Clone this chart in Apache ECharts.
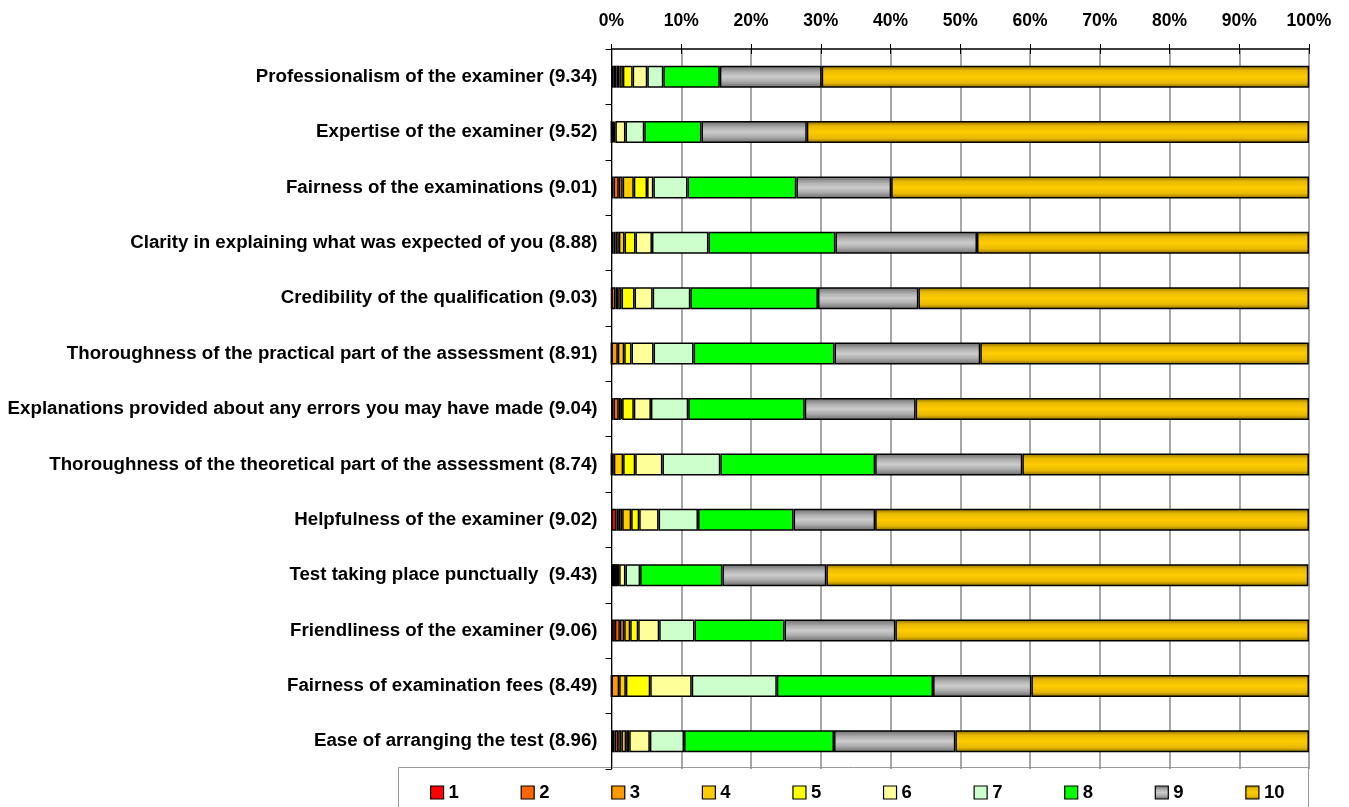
<!DOCTYPE html>
<html><head><meta charset="utf-8">
<script src="https://cdn.jsdelivr.net/npm/echarts@6/dist/echarts.min.js"></script>
<style>html,body{margin:0;padding:0;background:#fff}#c{width:1349px;height:807px}</style>
</head><body><div id="c"></div>
<script>
const categories = [
  'Professionalism of the examiner (9.34)',
  'Expertise of the examiner (9.52)',
  'Fairness of the examinations (9.01)',
  'Clarity in explaining what was expected of you (8.88)',
  'Credibility of the qualification (9.03)',
  'Thoroughness of the practical part of the assessment (8.91)',
  'Explanations provided about any errors you may have made (9.04)',
  'Thoroughness of the theoretical part of the assessment (8.74)',
  'Helpfulness of the examiner (9.02)',
  'Test taking place punctually  (9.43)',
  'Friendliness of the examiner (9.06)',
  'Fairness of examination fees (8.49)',
  'Ease of arranging the test (8.96)'
];
const legendNames = ['1','2','3','4','5','6','7','8','9','10'];
const tickLabels = ['0%','10%','20%','30%','40%','50%','60%','70%','80%','90%','100%'];
const score1  = [0.33, 0,    0.29, 0.29, 0,    0,    0.29, 0,    0.72, 0.4,  0.48, 0,    0.43];
const score2  = [0.4,  0,    0.76, 0.28, 0.57, 0,    0.76, 0,    0.33, 0,    0.72, 0,    0.53];
const score3  = [0.4,  0.2,  0.55, 0.48, 0.39, 0.91, 0.29, 0.33, 0.48, 0.3,  0.62, 1.1,  0.48];
const score4  = [0.5,  0.15, 1.6,  0.82, 0.48, 0.91, 0.19, 1.34, 1.29, 0,    0.86, 0.96, 0.66];
const score5  = [1.4,  0.2,  1.9,  1.57, 1.86, 1.05, 1.67, 1.73, 1.15, 0.4,  1.15, 3.49, 0.44];
const score6  = [2.1,  1.45, 0.9,  2.36, 2.6,  3.16, 2.45, 3.9,  2.78, 0.9,  3.01, 5.95, 2.96];
const score7  = [2.3,  2.7,  4.9,  8.1,  5.4,  5.74, 5.35, 8.3,  5.65, 2.1,  5.06, 12.2, 4.9];
const score8  = [8.1,  8.2,  15.6, 18.2, 18.3, 20.2, 16.7, 22.2, 13.7, 11.8, 12.9, 22.4, 21.5];
const score9  = [14.6, 15.1, 13.6, 20.3, 14.4, 20.9, 15.9, 21.1, 11.7, 14.9, 15.9, 14.1, 17.4];
const score10 = [69.9, 72.0, 59.9, 47.6, 56.0, 47.1, 56.4, 41.1, 62.2, 69.1, 59.3, 39.8, 50.7];
const seriesValues = [score1, score2, score3, score4, score5, score6, score7, score8, score9, score10];

const grad = (stops) => ({type:'linear', x:0, y:0, x2:0, y2:1,
  colorStops: stops.map(([o,c]) => ({offset:o, color:c}))});
const colors = ['#FF0000','#FF6600','#FF9900','#FFCC00','#FFFF00','#FFFF99','#CCFFCC','#00FF00',
  grad([[0,'#6a6a6a'],[0.3,'#b0b0b0'],[0.5,'#cccccc'],[0.7,'#b0b0b0'],[1,'#6a6a6a']]),
  grad([[0,'#8a6a00'],[0.22,'#e8b900'],[0.5,'#ffcc00'],[0.78,'#e8b900'],[1,'#8a6a00']])];

const chart = echarts.init(document.getElementById('c'), null, {renderer:'canvas'});
const font = 'Liberation Sans, Arial, sans-serif';
chart.setOption({
  animation:false,
  backgroundColor:'#fff',
  grid:{left:611.5, right:40, top:49, bottom:38, containLabel:false},
  graphic:[{type:'rect', shape:{x:398.5, y:767.5, width:910, height:60},
    style:{fill:'#fff', stroke:'#9a9a9a', lineWidth:1}, z:-1}],
  legend:{data:legendNames, left:425, top:778, itemWidth:13, itemHeight:13, itemGap:61.7,
    icon:'rect',
    textStyle:{fontFamily:font, fontWeight:'bold', fontSize:18.5, color:'#000'},
    itemStyle:{borderColor:'#000', borderWidth:1.2}},
  xAxis:[{type:'value', position:'top', min:0, max:100, interval:10,
    axisLine:{show:true, lineStyle:{color:'#000', width:1.5}},
    axisTick:{show:true, length:5, lineStyle:{color:'#000', width:1}},
    axisLabel:{margin:19, fontFamily:font, fontWeight:'bold', fontSize:17.5, color:'#000',
      formatter:(v)=>tickLabels[Math.round(v/10)]},
    splitLine:{show:true, lineStyle:{color:'#8a8a8a', width:1.5}}},
   {type:'value', position:'top', min:0, max:100, interval:10,
    axisLine:{show:false}, axisLabel:{show:false}, splitLine:{show:false},
    axisTick:{show:true, inside:true, length:5, lineStyle:{color:'#000', width:1}}}],
  yAxis:{type:'category', data:categories, inverse:true,
    axisLine:{show:true, lineStyle:{color:'#000', width:1}},
    axisTick:{show:true, length:6, lineStyle:{color:'#000'}},
    axisLabel:{margin:14, fontFamily:font, fontWeight:'bold', fontSize:18.7, color:'#000'}},
  series: seriesValues.map((vals,i)=>({
    name:legendNames[i], type:'bar', stack:'total', barWidth:22, data:vals,
    itemStyle:{color:colors[i], borderColor:'#000', borderWidth:1.5}
  }))
});
</script></body></html>
